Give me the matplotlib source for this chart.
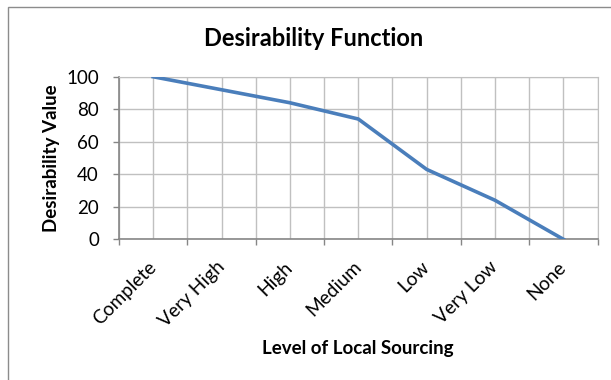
import matplotlib.pyplot as plt
from matplotlib.patches import Rectangle
from matplotlib.ticker import MultipleLocator

plt.rcParams['font.family'] = ['Lato', 'DejaVu Sans']

levels = ['Complete', 'Very High', 'High', 'Medium', 'Low', 'Very Low', 'None']
desirability = [100, 92, 84, 74, 43, 24, 0]

fig = plt.figure(figsize=(6.11, 3.8), dpi=100)
ax = fig.add_axes([0.1948, 0.3703, 0.7832, 0.4277])

x = list(range(len(levels)))
ax.plot(x, desirability, color='#4a7ebb', lw=2.6, solid_joinstyle='miter', zorder=3)

ax.set_xlim(-0.5, len(levels) - 0.5)
ax.set_ylim(0, 100)
ax.yaxis.set_major_locator(MultipleLocator(20))

# category ticks sit on the boundaries, labels in the middle
ax.set_xticks([i - 0.5 for i in range(len(levels) + 1)])
ax.set_xticklabels([])
ax.set_xticks(x, minor=True)
ax.set_xticklabels(levels, minor=True, rotation=45, ha='right', va='center',
                   rotation_mode='anchor', fontsize=13.8)
ax.tick_params(axis='x', which='minor', length=0, pad=18)
ax.tick_params(axis='x', which='major', length=4.5, width=1, color='#868686', direction='out')
ax.tick_params(axis='y', length=4.5, width=1, color='#868686', labelsize=13.5, pad=10)

ax.grid(True, which='both', axis='x', color='#c0c0c0', lw=1)
ax.grid(True, which='major', axis='y', color='#c0c0c0', lw=1)
ax.set_axisbelow(True)

for side in ['top', 'right']:
    ax.spines[side].set_color('#c0c0c0')
for side in ['left', 'bottom']:
    ax.spines[side].set_color('#868686')
    ax.spines[side].set_linewidth(1.2)

fig.text(314 / 611, 1 - 38 / 380, 'Desirability Function', fontsize=17,
         fontweight='bold', ha='center', va='center')
ax.set_ylabel('Desirability Value', fontsize=13.5, fontweight='bold', va='center')
ax.yaxis.set_label_coords(-0.142, 0.496)
ax.set_xlabel('Level of Local Sourcing', fontsize=13.5, fontweight='bold', va='center')
ax.xaxis.set_label_coords(0.5, -0.669)

# chart area border
fig.patches.append(Rectangle((8 / 611, -0.1), 1.2, 1 - 7 / 380 + 0.1,
                             transform=fig.transFigure, fill=False,
                             edgecolor='#8c8c8c', lw=1))

fig.savefig('out.png', dpi=100)
